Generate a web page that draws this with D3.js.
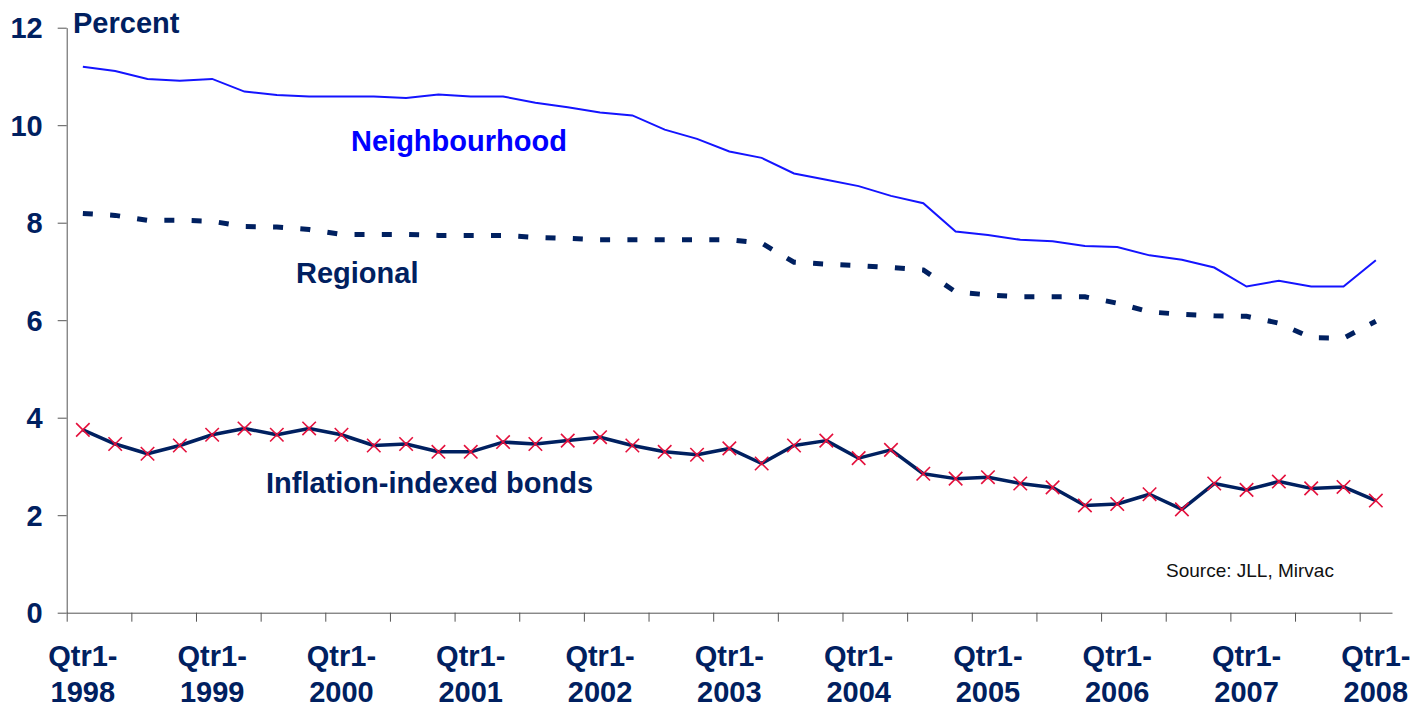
<!DOCTYPE html>
<html>
<head>
<meta charset="utf-8">
<script src="https://cdn.jsdelivr.net/npm/d3@7"></script>
<style>
  body { margin: 0; background: #fff; }
  svg { display: block; font-family: "Liberation Sans", Arial, sans-serif; }
</style>
</head>
<body>
<svg width="1415" height="708"></svg>
<script>
// quarters Qtr1-1998 .. Qtr1-2008
var years = [1998, 1999, 2000, 2001, 2002, 2003, 2004, 2005, 2006, 2007, 2008]
var quarters = []
years.forEach(function (yr) {
    for (var q = 1; q <= 4; q++) {
        if (yr == 2008 && q > 1) break
        quarters.push("Qtr" + q + "-" + yr)
    }
})

var neighbourhood = [11.20, 11.11, 10.95, 10.91, 10.95, 10.69, 10.62, 10.59, 10.59, 10.59,
    10.56, 10.63, 10.59, 10.59, 10.46, 10.37, 10.26, 10.20, 9.91, 9.72,
    9.46, 9.33, 9.01, 8.88, 8.75, 8.55, 8.40, 7.82, 7.75, 7.65,
    7.62, 7.52, 7.50, 7.33, 7.24, 7.08, 6.69, 6.81, 6.69, 6.69, 7.23]

var regional = [8.19, 8.15, 8.05, 8.05, 8.03, 7.92, 7.91, 7.86, 7.76, 7.76,
    7.76, 7.74, 7.74, 7.74, 7.70, 7.68, 7.65, 7.65, 7.65, 7.65,
    7.65, 7.58, 7.19, 7.15, 7.12, 7.08, 7.03, 6.58, 6.52, 6.48,
    6.48, 6.48, 6.35, 6.17, 6.12, 6.09, 6.08, 5.94, 5.64, 5.63, 5.98]

var inflation = [3.75, 3.46, 3.26, 3.43, 3.65, 3.78, 3.65, 3.78, 3.65, 3.43,
    3.46, 3.30, 3.30, 3.50, 3.46, 3.53, 3.60, 3.43, 3.30, 3.24,
    3.37, 3.06, 3.43, 3.53, 3.17, 3.34, 2.85, 2.75, 2.78, 2.65,
    2.57, 2.20, 2.23, 2.43, 2.12, 2.65, 2.52, 2.69, 2.55, 2.58, 2.30]

var yTicks = [0, 2, 4, 6, 8, 10, 12]

var navy = "#002060"
var svg = d3.select("svg")

var x = d3.scaleLinear().domain([0, quarters.length]).range([66.7, 1392])
var y = d3.scaleLinear().domain([0, 12]).range([612.7, 27.7])

function px(d, i) { return x(i + 0.5) }

// axes
var yAxis = svg.append("g")
    .attr("transform", "translate(" + x(0) + ",0)")
    .call(d3.axisLeft(y).tickValues(yTicks).tickSize(9).tickSizeOuter(0).tickPadding(15).tickFormat(d3.format("d")))
yAxis.select(".domain").attr("stroke", "#555")
yAxis.selectAll(".tick line").attr("stroke", "#555")
yAxis.selectAll(".tick text")
    .attr("fill", navy)
    .attr("font-size", 29)
    .attr("font-weight", "bold")
    .attr("font-family", "Liberation Sans, Arial, sans-serif")
    .attr("dy", null)
    .attr("y", 10)

var xTickVals = d3.range(0, quarters.length, 2)
var xAxis = svg.append("g")
    .attr("transform", "translate(0," + y(0) + ")")
    .call(d3.axisBottom(x).tickValues(xTickVals).tickSize(9).tickSizeOuter(0).tickFormat(""))
xAxis.select(".domain").attr("stroke", "#555")
xAxis.selectAll(".tick line").attr("stroke", "#555")

// year labels under Qtr1 of each year
var labelIdx = d3.range(0, quarters.length, 4)
var xl = svg.append("g")
    .attr("fill", navy)
    .attr("font-size", 29)
    .attr("font-weight", "bold")
    .attr("text-anchor", "middle")
xl.selectAll("text.q").data(labelIdx).enter().append("text")
    .attr("x", function (i) { return x(i + 0.5) })
    .attr("y", 665.5)
    .text(function (i) { return quarters[i].split("-")[0] + "-" })
xl.selectAll("text.yr").data(labelIdx).enter().append("text")
    .attr("x", function (i) { return x(i + 0.5) })
    .attr("y", 702)
    .text(function (i) { return quarters[i].split("-")[1] })

svg.append("text")
    .attr("x", 73).attr("y", 33)
    .attr("fill", navy).attr("font-size", 29).attr("font-weight", "bold")
    .text("Percent")

var line = d3.line().x(px).y(function (d) { return y(d) })

// lines
svg.append("path")
    .datum(neighbourhood)
    .attr("d", line)
    .attr("fill", "none")
    .attr("stroke", "#1414ff")
    .attr("stroke-width", 2)

svg.append("path")
    .datum(regional)
    .attr("d", line)
    .attr("fill", "none")
    .attr("stroke", navy)
    .attr("stroke-width", 5)
    .attr("stroke-dasharray", "10,17.3")

svg.append("path")
    .datum(inflation)
    .attr("d", line)
    .attr("fill", "none")
    .attr("stroke", navy)
    .attr("stroke-width", 3.5)
    .attr("stroke-linejoin", "round")

svg.append("g").selectAll("path")
    .data(inflation).enter().append("path")
    .attr("transform", function (d, i) { return "translate(" + px(d, i) + "," + y(d) + ")" })
    .attr("d", d3.symbol().type(d3.symbolX).size(120))
    .attr("fill", "none")
    .attr("stroke", "#e4103c")
    .attr("stroke-width", 1.6)

// series labels
svg.append("text").attr("x", 351).attr("y", 150.5)
    .attr("fill", "#0000ff").attr("font-size", 29).attr("font-weight", "bold")
    .text("Neighbourhood")
svg.append("text").attr("x", 296).attr("y", 283)
    .attr("fill", navy).attr("font-size", 29).attr("font-weight", "bold")
    .text("Regional")
svg.append("text").attr("x", 266).attr("y", 493)
    .attr("fill", navy).attr("font-size", 29).attr("font-weight", "bold")
    .text("Inflation-indexed bonds")
svg.append("text").attr("x", 1166).attr("y", 576.5)
    .attr("fill", "#111").attr("font-size", 19)
    .text("Source: JLL, Mirvac")
</script>
</body>
</html>
